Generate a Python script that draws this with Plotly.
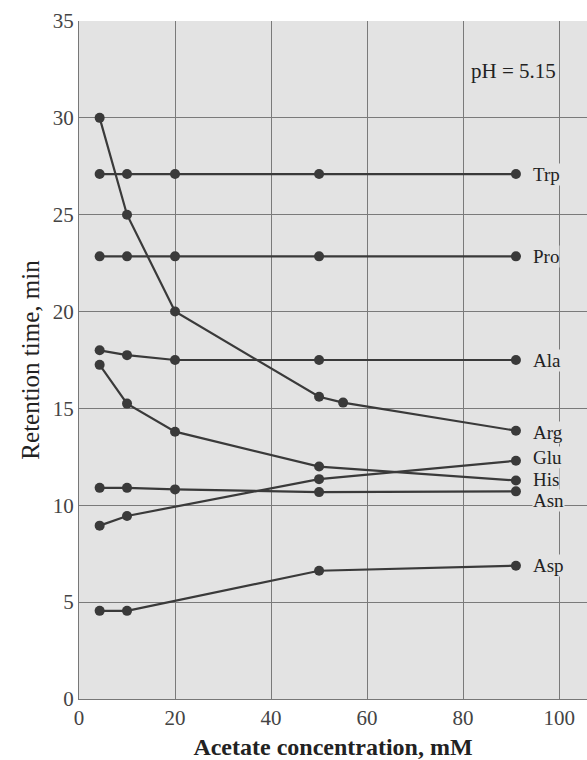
import plotly.graph_objects as go

# Acetate concentration (mM) and retention times (min) for each amino acid, pH 5.15
amino_acids = ["Trp", "Pro", "Ala", "Arg", "Glu", "His", "Asn", "Asp"]

conc = {
    "Trp": [4.3, 10, 20, 50, 91],
    "Pro": [4.3, 10, 20, 50, 91],
    "Ala": [4.3, 10, 20, 50, 91],
    "Arg": [4.3, 10, 20, 50, 55, 91],
    "Glu": [4.3, 10, 50, 91],
    "His": [4.3, 10, 20, 50, 91],
    "Asn": [4.3, 10, 20, 50, 91],
    "Asp": [4.3, 10, 50, 91],
}
retention = {
    "Trp": [27.1, 27.1, 27.1, 27.1, 27.1],
    "Pro": [22.85, 22.85, 22.85, 22.85, 22.85],
    "Ala": [18.0, 17.75, 17.5, 17.5, 17.5],
    "Arg": [30.0, 25.0, 20.0, 15.6, 15.3, 13.85],
    "Glu": [8.95, 9.45, 11.35, 12.3],
    "His": [17.25, 15.25, 13.8, 12.0, 11.28],
    "Asn": [10.9, 10.9, 10.82, 10.68, 10.72],
    "Asp": [4.55, 4.55, 6.62, 6.88],
}
# label heights next to the last point of each curve
label_y = {
    "Trp": 27.1, "Pro": 22.85, "Ala": 17.5, "Arg": 13.75,
    "Glu": 12.45, "His": 11.35, "Asn": 10.25, "Asp": 6.88,
}

x_ticks = [0, 20, 40, 60, 80, 100]
y_ticks = [0, 5, 10, 15, 20, 25, 30, 35]

FONT = "Liberation Serif, DejaVu Serif, serif"
INK = "#3a3a3a"
BG = "#e3e3e3"

fig = go.Figure()
for aa in amino_acids:
    fig.add_trace(go.Scatter(
        x=conc[aa], y=retention[aa], mode="lines+markers", name=aa,
        line=dict(color=INK, width=2.2),
        marker=dict(color=INK, size=10),
        showlegend=False,
    ))
    fig.add_annotation(
        x=94.3, y=label_y[aa], text=aa, showarrow=False,
        xanchor="left", yanchor="middle",
        font=dict(family=FONT, size=19, color="#222"),
        bgcolor=BG, borderpad=0,
    )

fig.add_annotation(
    x=81.3, y=32.4, text="pH = 5.15", showarrow=False,
    xanchor="left", yanchor="middle",
    font=dict(family=FONT, size=21, color="#222"),
)

fig.update_layout(
    width=587, height=760,
    margin=dict(l=79, r=0, t=21, b=61),
    paper_bgcolor="white",
    plot_bgcolor=BG,
    font=dict(family=FONT, size=20, color="#333"),
)
fig.update_xaxes(
    range=[0, 105.8], tickvals=x_ticks, ticks="",
    showgrid=True, gridcolor="#7a7a7a", gridwidth=1,
    zeroline=False, showline=True, linecolor="#777", linewidth=1,
    tickfont=dict(family=FONT, size=21, color="#444"),
    title=dict(text="<b>Acetate concentration, mM</b>",
               font=dict(family=FONT, size=24, color="#222"), standoff=8),
)
fig.update_yaxes(
    range=[0, 35], tickvals=y_ticks, ticks="",
    showgrid=True, gridcolor="#7a7a7a", gridwidth=1,
    zeroline=False, showline=True, linecolor="#777", linewidth=1,
    tickfont=dict(family=FONT, size=21, color="#444"),
    title=dict(text="Retention time, min",
               font=dict(family=FONT, size=25, color="#222"), standoff=6),
)

fig.write_html("out.html")
